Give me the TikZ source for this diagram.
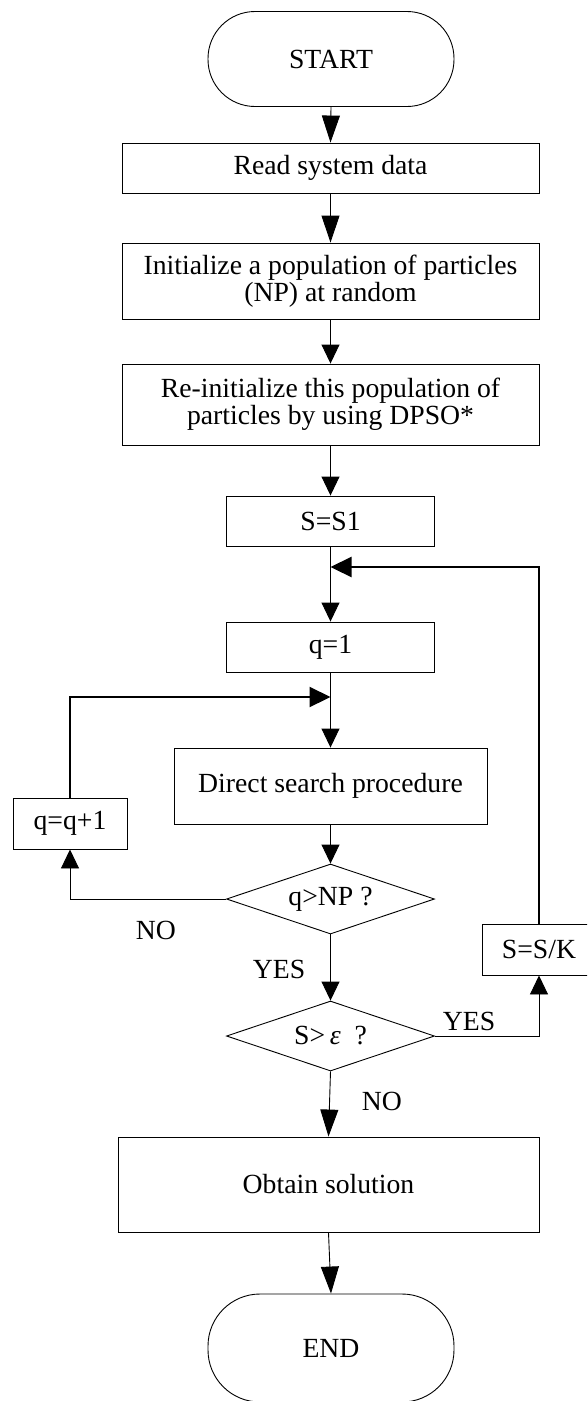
\documentclass[tikz,border=0pt]{standalone}
\usepackage{fontspec}
\setmainfont{Liberation Serif}
\usetikzlibrary{shapes.geometric,arrows.meta}

\tikzset{
	proc/.style={draw, line width=0.9pt, inner sep=0pt, align=center},
	term/.style={proc, rounded corners=#1},
	dec/.style={draw, diamond, shape aspect=3, line width=0.9pt, inner sep=0pt, minimum width=208, minimum height=70},
	arr/.style={line width=0.9pt, -{Triangle[length=19pt,width=18pt]}},
	arrlong/.style={line width=0.9pt, -{Triangle[length=27pt,width=18pt]}},
	backline/.style={line width=2.2pt, -{Triangle[length=21pt,width=20pt]}},
}

\begin{document}
\begin{tikzpicture}[x=1pt, y=-1pt, font=\fontsize{27.7pt}{26.7pt}\selectfont]
	\clip (0,0) rectangle (587,1401);
	\def\axis{330.5};

	\node[term=47, minimum width=246, minimum height=95] (start) at (331,59) {START};
	\node[proc, minimum width=417, minimum height=50] (read) at (\axis,168) {Read system data};
	\node[proc, minimum width=417, minimum height=76] (init) at (\axis,281) {Initialize a population of particles\\(NP) at random};
	\node[proc, minimum width=417, minimum height=81] (reinit) at (\axis,404.5) {Re-initialize this population of\\particles by using DPSO*};
	\node[proc, minimum width=208, minimum height=50] (sone) at (\axis,521) {S=S1};
	\node[proc, minimum width=208, minimum height=50] (qone) at (\axis,647) {q=1};
	\node[proc, minimum width=313, minimum height=76] (search) at (\axis,786) {Direct search procedure};
	\node[proc, minimum width=114, minimum height=51] (qinc) at (70,823.5) {q=q+1};
	\node[dec] (qtest) at (\axis,899) {q>NP ?};
	\node[proc, minimum width=114, minimum height=51] (sdiv) at (539,949.5) {S=S/K};
	\node[dec] (stest) at (\axis,1036) {S>\,{\itshape ε}\ \ ?};
	\node[proc, minimum width=421, minimum height=95] (solve) at (328.5,1184.5) {Obtain solution};
	\node[term=52, minimum width=246, minimum height=108] (stop) at (331,1348) {END};

	\node (noa) at (156,930) {NO};
	\node (yesa) at (279,969) {YES};
	\node (yesb) at (469,1021) {YES};
	\node (nob) at (382,1101) {NO};

	\coordinate (jtop) at (\axis,567);
	\coordinate (jmid) at (\axis,697);

	\draw[arrlong] (start.south) -- (read.north);
	\draw[arrlong] (read.south) -- (init.north);
	\draw[arr] (init.south) -- (reinit.north);
	\draw[arr] (reinit.south) -- (sone.north);
	\draw[arr] (sone.south) -- (qone.north);
	\draw[arr] (qone.south) -- (search.north);
	\draw[arr] (search.south) -- (qtest.north);
	\draw[arr] (qtest.west) -| (qinc.south);
	\draw[backline] (qinc.north) |- (jmid);
	\draw[arr] (qtest.south) -- (stest.north);
	\draw[arr] (stest.east) -| (sdiv.south);
	\draw[backline] (sdiv.north) |- (jtop);
	\draw[arrlong] (stest.south) -- (solve.north);
	\draw[arrlong] (solve.south) -- (stop.north);
\end{tikzpicture}
\end{document}
